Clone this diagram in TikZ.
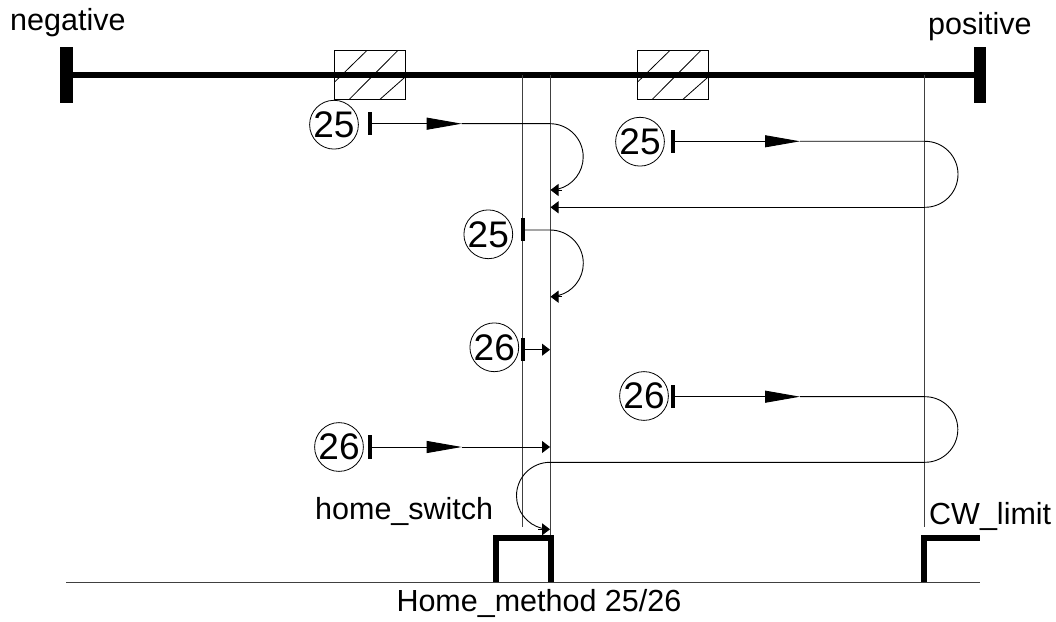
\documentclass[tikz,border=0pt]{standalone}
\usepackage{fontspec}
\setmainfont{Liberation Sans}
\usetikzlibrary{arrows.meta}
\tikzset{
  label/.style={draw=none, inner sep=0pt, anchor=base west, font=\fontsize{30.5}{36}\selectfont},
  method/.style={shape=circle, draw=black, line width=0.8pt, minimum size=45pt, inner sep=0pt, font=\fontsize{37}{40}\selectfont},
  tickbar/.style={shape=rectangle, fill=black, draw=none, minimum width=4pt, minimum height=23pt, inner sep=0pt},
  wire/.style={line width=0.9pt},
  guide/.style={line width=1pt, black!75},
  fast/.style={wire, -{Triangle[length=35pt,width=12pt]}},
  slow/.style={wire, -{Triangle[length=8pt,width=12pt]}},
  signal/.style={line width=6pt, miter limit=10}
}
\begin{document}
\begin{tikzpicture}[x=1pt, y=1pt]
\useasboundingbox (0,0) rectangle (1056,621);
%%%%%%%%%%%%%%%%%%%%%%%%%%%%%%%%%%%%%%%%%%% axis and dogs
\foreach \bx in {334.3,637.3}{
  \draw[line width=0.8pt] (\bx,521.7) rectangle +(71.2,48.6);
  \draw[line width=0.8pt] (\bx,538.7) -- (\bx+32.4,570.3);
  \draw[line width=0.8pt] (\bx+15,521.7) -- (\bx+63.4,570.3);
  \draw[line width=0.8pt] (\bx+45.7,521.7) -- (\bx+71.2,544.3);
}
\coordinate (axisl) at (66,545.8);
\coordinate (axisr) at (980,545.8);
\coordinate (endl) at (66.3,518.3);
\coordinate (endr) at (979.8,518.3);
\draw[line width=6.5pt] (axisl) -- (axisr);
\draw[line width=12.5pt] (endl) -- +(0,55.4);
\draw[line width=12.5pt] (endr) -- +(0,55.4);
\node[label](neg) at (10,590.3){negative};
\node[label](pos) at (928,586.7){positive};

%%%%% guides
\coordinate (g1t) at (522.7,546);
\coordinate (g1b) at (522.7,94);
\coordinate (g2t) at (550.3,546);
\coordinate (g2b) at (550.3,84);
\coordinate (g3t) at (924.7,546);
\coordinate (g3b) at (924.7,94.3);
\draw[guide] (g1t) -- (g1b);
\draw[guide] (g2t) -- (g2b);
\draw[guide] (g3t) -- (g3b);

%%%%% switches
\coordinate (base1) at (66,39);
\coordinate (base2) at (980,39);
\draw[guide] (base1) -- (base2);
\coordinate (sw1) at (495.7,39);
\coordinate (sw2) at (550.7,39);
\coordinate (sw3) at (924.3,39);
\coordinate (sw4) at (980,83);
\draw[signal] (sw1) -- (495.7,83) -- (550.7,83) -- (sw2);
\draw[signal] (sw3) |- (sw4);
\node[label](home) at (315,102){home\_switch};
\node[label](cw) at (929,97){CW\_limit};
\node[label](title) at (396.3,9.3){Home\_method 25/26};

%%%%% method numbers
\node[method](n1) at (334,496.3){25};
\node[method](n2) at (640,479.3){25};
\node[method](n3) at (488.3,386.7){25};
\node[method](n4) at (494.3,273.7){26};
\node[method](n5) at (644,225){26};
\node[method](n6) at (339,174){26};

%%%%% starts
\node[tickbar](s1) at (370,497.3){};
\node[tickbar](s2) at (673,479.7){};
\node[tickbar](s3) at (522.7,391){};
\node[tickbar](s4) at (522.7,271.3){};
\node[tickbar](s5) at (673,224.3){};
\node[tickbar](s6) at (370,174){};

%%%%% first 25
\coordinate (m1) at (461.7,497.3);
\coordinate (t1) at (550,497.3);
\coordinate (b1) at (562,431);
\coordinate (e1) at (550.5,431);
\draw[fast] (s1.center) -- (m1);
\draw[wire] (m1) -- (t1) arc[start angle=90, end angle=-76, radius=33.2];
\draw[slow] (b1) -- (e1);

%%%%% second 25
\coordinate (m2) at (800,479.7);
\coordinate (t2) at (925,479.7);
\coordinate (u2) at (925,413.7);
\coordinate (e2) at (550.5,413.7);
\draw[fast] (s2.center) -- (m2);
\draw[wire] (m2) -- (t2) arc[start angle=90, end angle=-90, radius=33];
\draw[slow] (u2) -- (e2);

%%%%% third 25
\coordinate (t3) at (550,391);
\coordinate (b3) at (562,324.3);
\coordinate (e3) at (550.5,324.3);
\draw[wire] (s3.center) -- (t3) arc[start angle=90, end angle=-76, radius=33.3];
\draw[slow] (b3) -- (e3);

%%%%% 26
\coordinate (e4) at (550,271.3);
\draw[slow] (s4.center) -- (e4);

\coordinate (m5) at (800,224.3);
\coordinate (t5) at (925,224.3);
\coordinate (u5) at (925,158.7);
\coordinate (v5) at (550,158.7);
\coordinate (b5) at (538,91.7);
\coordinate (e5) at (550,91.7);
\draw[fast] (s5.center) -- (m5);
\draw[wire] (m5) -- (t5) arc[start angle=90, end angle=-90, radius=32.8];
\draw[wire] (u5) -- (v5) arc[start angle=90, end angle=256, radius=33.5];
\draw[slow] (b5) -- (e5);

\coordinate (m6) at (461.7,174);
\coordinate (e6) at (550,174);
\draw[fast] (s6.center) -- (m6);
\draw[slow] (m6) -- (e6);
\end{tikzpicture}
\end{document}
